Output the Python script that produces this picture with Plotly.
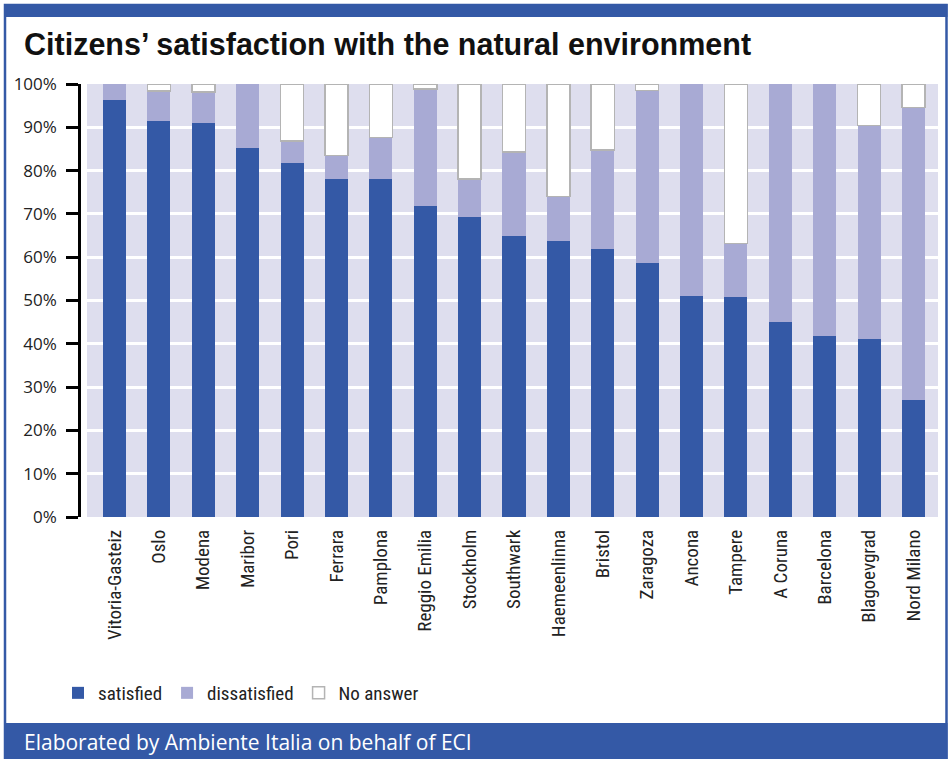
import plotly.graph_objects as go

cities = ["Vitoria-Gasteiz", "Oslo", "Modena", "Maribor", "Pori", "Ferrara", "Pamplona",
          "Reggio Emilia", "Stockholm", "Southwark", "Haemeenlinna", "Bristol", "Zaragoza",
          "Ancona", "Tampere", "A Coruna", "Barcelona", "Blagoevgrad", "Nord Milano"]
satisfied = [96.3, 91.5, 91.0, 85.2, 81.8, 78.1, 78.1, 71.8, 69.3, 64.9, 63.7, 61.9, 58.7,
             51.0, 50.8, 45.0, 41.8, 41.1, 27.0]
dissatisfied = [3.7, 6.9, 7.2, 14.8, 5.0, 5.4, 9.6, 27.0, 8.8, 19.4, 10.3, 22.9, 39.8,
                49.0, 12.4, 55.0, 58.2, 49.3, 67.6]
no_answer = [None, 1.6, 1.8, None, 13.2, 16.5, 12.3, 1.2, 21.9, 15.7, 26.0, 15.2, 1.5,
             None, 36.8, None, None, 9.6, 5.4]
y_ticks = [0, 10, 20, 30, 40, 50, 60, 70, 80, 90, 100]
y_tick_labels = ["0%", "10%", "20%", "30%", "40%", "50%", "60%", "70%", "80%", "90%", "100%"]

W, H = 951, 759
L, R, T, B = 81, 938, 84, 517  # plot area in pixels

def px(x):
    return (x - L) / (R - L)

def py(y):
    return (B - y) / (B - T)

BLUE = "#3459A6"
LIGHT = "#A8AAD4"
BG = "#DEDEEE"
COND = "Liberation Sans Narrow, Arial Narrow, Roboto Condensed, sans-serif"

fig = go.Figure()
fig.add_trace(go.Bar(name="satisfied", x=cities, y=satisfied, marker_color=BLUE,
                     marker_line_width=0, width=0.52))
fig.add_trace(go.Bar(name="dissatisfied", x=cities, y=dissatisfied, marker_color=LIGHT,
                     marker_line_width=0, width=0.52))
fig.add_trace(go.Bar(name="No answer", x=cities, y=no_answer, marker_color="white",
                     marker_line=dict(color="#B4B4B4", width=1.5), width=0.52))

shapes = [
    # lavender plot background
    dict(type="rect", xref="paper", yref="paper", x0=px(87), x1=1, y0=0, y1=1,
         fillcolor=BG, line_width=0, layer="below"),
    # frame
    dict(type="rect", xref="paper", yref="paper", x0=px(5), x1=px(946.5), y0=py(5), y1=py(758),
         line=dict(color=BLUE, width=2.5), fillcolor="rgba(0,0,0,0)", layer="above"),
    dict(type="rect", xref="paper", yref="paper", x0=px(4), x1=px(947.5), y0=py(4), y1=py(17),
         line_width=0, fillcolor=BLUE, layer="above"),
    dict(type="rect", xref="paper", yref="paper", x0=px(4), x1=px(947.5), y0=py(723), y1=py(759),
         line_width=0, fillcolor=BLUE, layer="above"),
]

annotations = [
    dict(text="<b>Citizens’ satisfaction with the natural environment</b>", xref="paper", yref="paper",
         x=px(22), y=py(44), xanchor="left", yanchor="middle", showarrow=False,
         font=dict(family="Liberation Sans, Arial, sans-serif", size=30.5, color="#111")),
    dict(text="Elaborated by Ambiente Italia on behalf of ECI", xref="paper", yref="paper",
         x=px(22), y=py(742), xanchor="left", yanchor="middle", showarrow=False,
         font=dict(family="Open Sans, sans-serif", size=21, color="white")),
]

fig.update_layout(
    width=W, height=H,
    margin=dict(l=L, r=W - R, t=T, b=H - B, pad=0),
    barmode="stack",
    paper_bgcolor="white", plot_bgcolor="white",
    shapes=shapes, annotations=annotations,
    showlegend=True,
    legend=dict(orientation="h", x=px(58), y=py(693), xanchor="left", yanchor="middle",
                font=dict(family=COND, size=19, color="#222"), traceorder="normal",
                itemwidth=30, bgcolor="rgba(0,0,0,0)"),
    xaxis=dict(range=[-0.755, 18.552], tickangle=-90, showgrid=False, showline=False,
               ticks="", ticklabelstandoff=8,
               tickfont=dict(family=COND, size=19, color="#222")),
    yaxis=dict(range=[0, 100], tickmode="array", tickvals=y_ticks, ticktext=y_tick_labels,
               showgrid=True, gridcolor="white", gridwidth=2.5, showline=True, linecolor="black",
               linewidth=2.5, ticks="outside", ticklen=12, tickwidth=2.5, tickcolor="black",
               ticklabelstandoff=6, zeroline=False,
               tickfont=dict(family="Open Sans, sans-serif", size=17, color="#222")),
)

fig.write_html("out.html", config={"displayModeBar": False},
               post_script="document.body.style.margin='0';")
